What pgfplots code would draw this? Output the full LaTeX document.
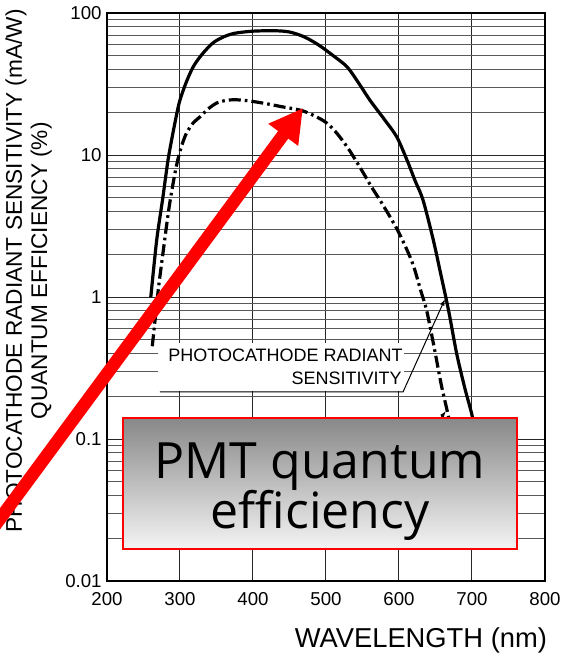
\documentclass[border=0pt]{standalone}
\usepackage{fontspec}
\setmainfont{Liberation Sans}
\newfontfamily\boxfont{Open Sans}
\usepackage{pgfplots}
\pgfplotsset{compat=1.18}
\usetikzlibrary{arrows.meta,calc}

\begin{document}
\begin{tikzpicture}
\begin{axis}[
    scale only axis, width=328.5pt, height=426pt,
    xmin=200, xmax=800, ymin=0.01, ymax=100, ymode=log,
    xtick={200,300,...,800},
    ytick={0.01,0.1,1,10,100}, yticklabels={0.01,0.1,1,10,100},
    minor ytick={0.02,0.03,0.04,0.05,0.06,0.07,0.08,0.09,
                 0.2,0.3,0.4,0.5,0.6,0.7,0.8,0.9,
                 2,3,4,5,6,7,8,9,20,30,40,50,60,70,80,90},
    grid=both,
    major grid style={black!85, line width=0.75pt},
    minor grid style={black!65, line width=0.65pt},
    tick style={draw=none},
    axis line style={line width=2pt},
    /pgf/number format/assume math mode=true,
    tick label style={font=\fontsize{14}{16}\selectfont},
    yticklabel style={xshift=-0.5pt},
    xticklabel style={yshift=-5pt},
    ylabel={PHOTOCATHODE RADIANT SENSITIVITY (mA/W)\\QUANTUM EFFICIENCY (\%)},
    ylabel style={at={(axis description cs:-0.179,0.546)}, anchor=center, rotate=0,
                  align=center, font=\fontsize{17}{19}\selectfont},
    xlabel={WAVELENGTH (nm)},
    xlabel style={at={(axis description cs:1,0)}, anchor=base east,
                  xshift=5pt, yshift=-50pt, font=\fontsize{20.5}{24}\selectfont},
  ]
  % photocathode radiant sensitivity (mA/W)
  \addplot[black, line width=2.4pt, smooth, tension=0.5] coordinates {
    (260,1.0)(264,1.6)(268,2.5)(272,3.5)(276,4.8)(280,6.8)(284,9.5)(290,14)
    (296,20)(300,24.4)(308,32)(318,41.7)(330,51)(345,61.5)(360,68)(375,72)
    (400,74.5)(430,75)(450,73.5)(470,68)(490,59.5)(510,50)
    (529,41.7)(545,32)(560,24.4)(580,17.8)(597,13.4)(611,9.2)(622,6.6)(633,4.8)
    (647,2.52)(656,1.55)(668,0.8)(679,0.4)(690,0.23)(701,0.14)(712,0.07)(720,0.04)};
  % quantum efficiency (%)
  \addplot[black, line width=2.4pt, smooth, tension=0.5,
           dash pattern=on 9pt off 3pt on 2pt off 3pt] coordinates {
    (262,0.45)(266,0.7)(270,1.1)(274,1.6)(278,2.3)(282,3.3)(286,4.6)(291,6.5)
    (296,8.8)(302,11.5)(309,14.3)(318,16.8)(327,18.5)(338,21)(350,23.2)(362,24.2)
    (375,24.5)(390,24.2)(405,23.6)(420,22.9)(441,21.8)(455,21.2)(469,20.4)(485,18.8)
    (501,16.8)(515,14.2)(529,11.4)(540,9.3)(551,7.5)(562,6.0)(574,4.8)(586,3.8)
    (598,2.96)(610,2.2)(620,1.65)(630,1.1)(638,0.8)(649,0.42)(658,0.24)(667,0.15)(676,0.09)};
  \coordinate (sw) at (rel axis cs:0,0);
\end{axis}

% overlay, in pixel units of the reference (origin top left)
\begin{scope}[shift={($(sw)+(-80.25pt,435.75pt)$)}, x=0.75pt, y=-0.75pt]
  % label of the curves
  \fill[white] (158,343) rectangle (404,391);
  \node[anchor=base east, inner sep=0, font=\fontsize{13.5}{16}\selectfont]
    at (403,362) {PHOTOCATHODE RADIANT};
  \node[anchor=base east, inner sep=0, font=\fontsize{13.5}{16}\selectfont]
    at (402,385) {SENSITIVITY};
  \draw[black, line width=0.75pt, -{Latex[length=5pt,width=3.5pt]}]
    (160,392) -- (403,392) -- (445,299);
  \draw[black, line width=0.75pt, -{Latex[length=5pt,width=3.5pt]}]
    (430,432) -- (446,411);
  % caption box
  \path[draw=red, line width=1.5pt,
        top color={rgb,255:red,136;green,136;blue,136},
        bottom color={rgb,255:red,244;green,244;blue,244}]
    (123,418) rectangle (517,549);
  \node[anchor=base, inner sep=0, font=\boxfont\fontsize{37.5}{40}\selectfont]
    at (320,478) {PMT quantum};
  \node[anchor=base, inner sep=0, font=\boxfont\fontsize{37.5}{40}\selectfont]
    at (320,528) {efficiency};
  % red arrow
  \draw[red, line width=9.5pt, -{Triangle[length=25pt,width=26pt]}]
    (-40,573) -- (303,108);
  \pgfresetboundingbox
  \path[use as bounding box] (0,0) rectangle (562,654);
\end{scope}
\end{tikzpicture}
\end{document}
